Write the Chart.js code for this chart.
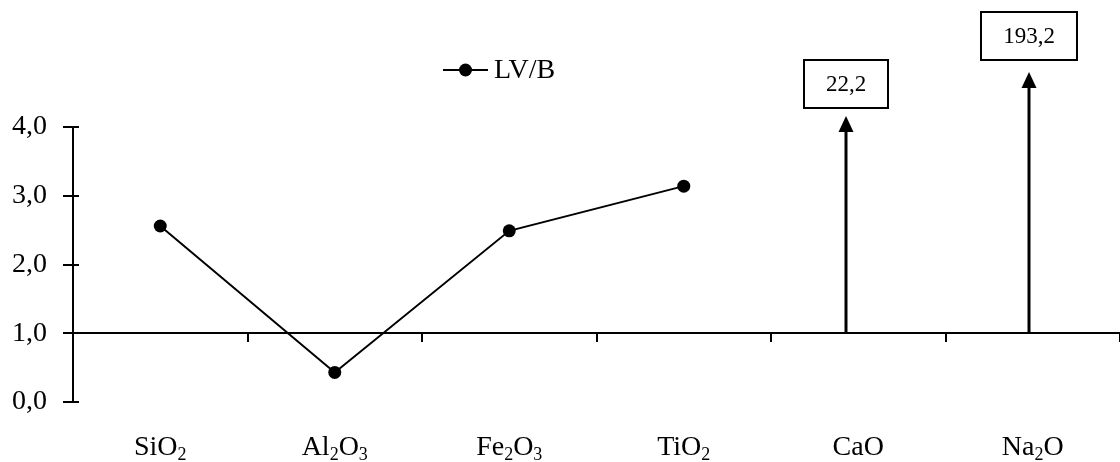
<!DOCTYPE html>
<html>
<head>
<meta charset="utf-8">
<script src="https://cdn.jsdelivr.net/npm/chart.js@4.4.1/dist/chart.umd.min.js"></script>
<style>
  html, body { margin: 0; padding: 0; background: #ffffff; }
  #wrap { width: 1120px; height: 462px; position: relative; }
</style>
</head>
<body>
<div id="wrap"><canvas id="chart" width="1120" height="462"></canvas></div>
<script>
// Oxide ratios LV/B
const oxides = ['SiO2', 'Al2O3', 'Fe2O3', 'TiO2', 'CaO', 'Na2O'];
const ratios = [2.56, 0.43, 2.49, 3.14, 22.2, 193.2];
const seriesName = 'LV/B';
const yTicks = [0, 1, 2, 3, 4];

const SERIF = "'Liberation Serif', 'Times New Roman', serif";
const fmt = v => v.toFixed(1).replace('.', ',');
const Y_MAX = yTicks[yTicks.length - 1];

// Values above the axis range are shown as arrows with a boxed value
const calloutLayout = {
  CaO:  { lift: 11, gap: 8,  dx: -12 },
  Na2O: { lift: 55, gap: 12, dx: -4 }
};

// Short inner tick marks on the value axis (every 0.5)
const innerTicks = {
  id: 'innerTicks',
  afterDraw(chart) {
    const y = chart.scales.y;
    const ctx = chart.ctx;
    ctx.save();
    ctx.strokeStyle = '#000';
    ctx.lineWidth = 2;
    y.ticks.forEach(t => {
      const py = Math.round(y.getPixelForValue(t.value));
      ctx.beginPath();
      ctx.moveTo(y.right, py);
      ctx.lineTo(y.right + 6, py);
      ctx.stroke();
    });
    ctx.restore();
  }
};

// Category labels with subscript digits
const formulaLabels = {
  id: 'formulaLabels',
  afterDraw(chart) {
    const x = chart.scales.x;
    const ctx = chart.ctx;
    const baseline = 455;
    ctx.save();
    ctx.fillStyle = '#000';
    ctx.textBaseline = 'alphabetic';
    ctx.textAlign = 'left';
    oxides.forEach((name, i) => {
      const parts = name.match(/\d+|\D+/g).map(s => ({ s, sub: /\d/.test(s) }));
      let w = 0;
      parts.forEach(p => {
        ctx.font = (p.sub ? '18px ' : '28px ') + SERIF;
        p.w = ctx.measureText(p.s).width;
        w += p.w;
      });
      let px = x.getPixelForValue(i) - w / 2;
      parts.forEach(p => {
        ctx.font = (p.sub ? '18px ' : '28px ') + SERIF;
        ctx.fillText(p.s, px, baseline + (p.sub ? 5 : 0));
        px += p.w;
      });
    });
    ctx.restore();
  }
};

// Arrows and boxed values for off-scale ratios
const offScale = {
  id: 'offScale',
  afterDraw(chart) {
    const x = chart.scales.x, y = chart.scales.y;
    const ctx = chart.ctx;
    const area = chart.chartArea;
    ctx.save();
    ratios.forEach((v, i) => {
      if (v <= Y_MAX) return;
      const lay = calloutLayout[oxides[i]] || { lift: 20, gap: 10, dx: 0 };
      const px = Math.round(x.getPixelForValue(i) + lay.dx);
      const base = y.getPixelForValue(1);
      const tip = area.top - lay.lift;
      const headH = 16, headW = 15;
      // shaft
      ctx.strokeStyle = '#000';
      ctx.lineWidth = 3;
      ctx.beginPath();
      ctx.moveTo(px, base);
      ctx.lineTo(px, tip + headH - 1);
      ctx.stroke();
      // head
      ctx.fillStyle = '#000';
      ctx.beginPath();
      ctx.moveTo(px, tip);
      ctx.lineTo(px - headW / 2, tip + headH);
      ctx.lineTo(px + headW / 2, tip + headH);
      ctx.closePath();
      ctx.fill();
      // box with value
      const text = fmt(v);
      ctx.font = '23px ' + SERIF;
      const tw = ctx.measureText(text).width;
      const bw = Math.round(tw + 44), bh = 48;
      const bottom = tip - lay.gap;
      const left = Math.round(px - bw / 2);
      ctx.lineWidth = 2;
      ctx.strokeRect(left, bottom - bh, bw, bh);
      ctx.textAlign = 'center';
      ctx.textBaseline = 'middle';
      ctx.fillText(text, px, bottom - bh / 2 + 1);
    });
    ctx.restore();
  }
};

// Legend: line with marker and series name
const lineLegend = {
  id: 'lineLegend',
  afterDraw(chart) {
    const ctx = chart.ctx;
    const cy = 70, x0 = 443, x1 = 488;
    ctx.save();
    ctx.strokeStyle = '#000';
    ctx.lineWidth = 2;
    ctx.beginPath();
    ctx.moveTo(x0, cy);
    ctx.lineTo(x1, cy);
    ctx.stroke();
    ctx.fillStyle = '#000';
    ctx.beginPath();
    ctx.arc((x0 + x1) / 2, cy, 6.5, 0, Math.PI * 2);
    ctx.fill();
    ctx.font = '28px ' + SERIF;
    ctx.textAlign = 'left';
    ctx.textBaseline = 'middle';
    ctx.fillText(chart.data.datasets[0].label, x1 + 6, cy + 1);
    ctx.restore();
  }
};

new Chart(document.getElementById('chart'), {
  type: 'line',
  data: {
    labels: oxides,
    datasets: [{
      label: seriesName,
      data: ratios.map(v => (v <= Y_MAX ? v : null)),
      borderColor: '#000',
      borderWidth: 2,
      backgroundColor: '#000',
      pointBackgroundColor: '#000',
      pointBorderColor: '#000',
      pointRadius: 6.5,
      pointBorderWidth: 0,
      tension: 0,
      spanGaps: false,
      clip: false
    }]
  },
  options: {
    responsive: false,
    animation: false,
    events: [],
    layout: { autoPadding: false, padding: { top: 127, bottom: 60, left: 0, right: 0 } },
    plugins: {
      legend: { display: false },
      tooltip: { enabled: false }
    },
    scales: {
      x: {
        type: 'category',
        position: { y: 1 },
        offset: true,
        ticks: { display: false },
        grid: {
          offset: true,
          drawOnChartArea: false,
          drawTicks: true,
          tickLength: 8,
          color: '#000',
          lineWidth: 2
        },
        border: { color: '#000', width: 2 }
      },
      y: {
        min: 0,
        max: Y_MAX,
        afterFit(scale) { scale.width = 73; },
        afterBuildTicks(scale) {
          const t = [];
          for (let v = 0; v <= Y_MAX + 1e-9; v += 0.5) t.push({ value: v });
          scale.ticks = t;
        },
        ticks: {
          color: '#000',
          padding: 16,
          font: { family: SERIF, size: 28 },
          callback: v => (yTicks.includes(v) ? fmt(v) : '')
        },
        grid: {
          drawOnChartArea: false,
          tickLength: 10,
          color: ctx => (ctx.tick && yTicks.includes(ctx.tick.value) ? '#000' : 'rgba(0,0,0,0)'),
          lineWidth: 2
        },
        border: { color: '#000', width: 2 }
      }
    }
  },
  plugins: [innerTicks, formulaLabels, offScale, lineLegend]
});
</script>
</body>
</html>
